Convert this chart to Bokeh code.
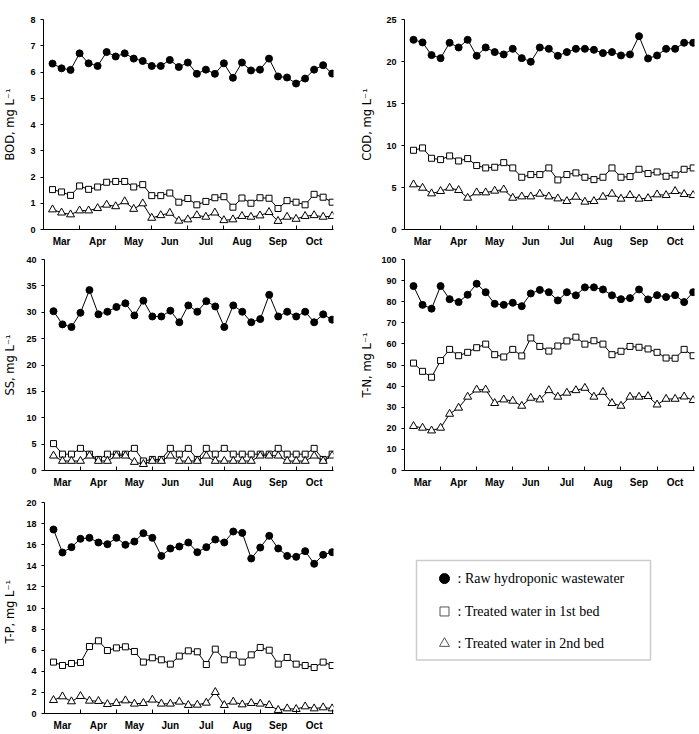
from bokeh.plotting import figure
from bokeh.models import Range1d, FixedTicker, BoxAnnotation
from bokeh.layouts import column, row
from bokeh.core.properties import value
from bokeh.embed import file_html
from bokeh.resources import INLINE

# Sampling sequence: four samples per month, March to October
months = ["Mar", "Apr", "May", "Jun", "Jul", "Aug", "Sep", "Oct"]
samples = list(range(1, 33))

bod_raw = [6.32, 6.14, 6.08, 6.71, 6.33, 6.23, 6.76, 6.59, 6.71, 6.51, 6.42, 6.23, 6.23, 6.46, 6.19, 6.36,
           5.93, 6.09, 5.93, 6.33, 5.78, 6.36, 6.06, 6.09, 6.51, 5.83, 5.79, 5.56, 5.75, 6.09, 6.26, 5.94]
bod_bed1 = [1.52, 1.43, 1.30, 1.66, 1.53, 1.62, 1.80, 1.83, 1.83, 1.62, 1.71, 1.29, 1.29, 1.39, 1.04, 1.18,
            0.94, 1.07, 1.21, 1.25, 0.85, 1.20, 1.00, 1.21, 1.19, 0.80, 1.10, 1.04, 0.94, 1.34, 1.23, 1.04]
bod_bed2 = [0.76, 0.64, 0.57, 0.72, 0.72, 0.81, 0.94, 0.88, 1.07, 0.78, 0.99, 0.44, 0.54, 0.63, 0.33, 0.38,
            0.54, 0.48, 0.64, 0.35, 0.38, 0.51, 0.48, 0.53, 0.66, 0.32, 0.48, 0.40, 0.51, 0.54, 0.48, 0.51]

cod_raw = [22.58, 22.27, 20.76, 20.40, 22.23, 21.67, 22.58, 20.68, 21.67, 21.12, 20.84, 21.51, 20.40, 19.97, 21.67, 21.51,
           20.68, 21.12, 21.51, 21.51, 21.39, 21.00, 21.12, 20.72, 20.84, 23.02, 20.36, 20.72, 21.51, 21.51, 22.23, 22.23]
cod_bed1 = [9.43, 9.71, 8.48, 8.32, 8.76, 8.16, 8.44, 7.61, 7.33, 7.41, 7.96, 7.33, 6.22, 6.54, 6.54, 7.33,
            5.90, 6.54, 6.74, 6.22, 5.94, 6.22, 7.33, 6.22, 6.30, 7.17, 6.66, 6.85, 6.34, 6.50, 7.17, 7.33]
cod_bed2 = [5.35, 4.95, 4.28, 4.56, 4.95, 4.68, 3.76, 4.40, 4.40, 4.60, 4.75, 3.76, 3.92, 3.92, 4.24, 3.92,
            3.68, 3.37, 3.88, 3.29, 3.37, 3.88, 4.24, 3.65, 4.08, 3.65, 3.72, 4.16, 4.08, 4.56, 4.20, 4.08]

ss_raw = [30.2, 27.7, 27.2, 29.9, 34.2, 29.6, 30.1, 31.0, 31.7, 29.4, 32.2, 29.2, 29.2, 30.3, 28.1, 31.3,
          30.1, 32.1, 31.1, 27.2, 31.3, 30.1, 28.1, 28.7, 33.3, 29.2, 30.1, 29.2, 30.1, 28.1, 29.6, 28.6]
ss_bed1 = [5.1, 3.1, 3.1, 4.2, 3.1, 2.1, 3.1, 3.1, 3.1, 4.2, 1.8, 2.1, 2.1, 4.2, 3.1, 4.2,
           2.1, 4.2, 3.1, 4.2, 3.1, 3.1, 3.1, 3.1, 3.1, 4.2, 3.1, 3.1, 3.1, 4.2, 2.1, 3.1]
ss_bed2 = [2.8, 1.8, 1.8, 1.8, 2.8, 1.8, 1.8, 2.8, 2.8, 1.6, 1.2, 1.8, 1.8, 2.8, 1.8, 1.8,
           1.8, 2.8, 1.8, 1.8, 1.8, 1.8, 1.8, 2.8, 2.8, 2.8, 1.8, 1.8, 1.8, 2.8, 1.8, 2.8]

tn_raw = [87.4, 78.5, 76.7, 87.4, 81.2, 79.8, 83.3, 88.5, 84.5, 79.0, 78.5, 79.5, 77.9, 83.9, 85.6, 84.5,
          80.6, 84.5, 83.0, 86.8, 86.8, 85.8, 83.0, 81.2, 81.7, 85.8, 81.1, 83.1, 82.2, 83.1, 79.8, 84.5]
tn_bed1 = [50.9, 47.0, 44.2, 52.1, 57.4, 54.4, 56.0, 58.2, 59.9, 54.9, 53.8, 57.4, 54.3, 62.8, 58.8, 56.6,
           59.0, 61.4, 63.2, 59.9, 61.5, 59.9, 54.9, 56.5, 58.8, 58.4, 57.6, 56.0, 53.3, 53.2, 57.4, 54.4]
tn_bed2 = [21.0, 20.2, 18.9, 20.2, 26.8, 29.7, 34.9, 38.3, 38.3, 31.9, 33.6, 33.0, 30.6, 34.4, 33.6, 38.0,
           34.9, 36.8, 38.0, 39.1, 34.9, 37.2, 31.9, 30.6, 34.9, 34.9, 35.2, 31.2, 33.9, 33.9, 35.0, 33.3]

tp_raw = [17.44, 15.26, 15.77, 16.56, 16.65, 16.21, 16.05, 16.65, 15.99, 16.30, 17.09, 16.65, 14.94, 15.64, 15.83, 16.21,
          15.29, 15.77, 16.49, 16.21, 17.25, 17.12, 14.69, 15.73, 16.84, 15.64, 14.94, 14.85, 15.39, 14.19, 15.04, 15.29]
tp_bed1 = [4.87, 4.55, 4.74, 4.83, 6.35, 6.89, 5.97, 6.22, 6.32, 5.88, 4.87, 5.28, 5.09, 4.68, 5.44, 5.94,
           5.85, 4.64, 6.10, 5.09, 5.56, 4.87, 5.56, 6.26, 6.00, 4.68, 5.31, 4.68, 4.55, 4.36, 4.87, 4.55]
tp_bed2 = [1.26, 1.61, 1.14, 1.64, 1.20, 1.17, 0.88, 0.98, 1.23, 0.92, 0.98, 1.30, 0.92, 0.92, 1.11, 0.79,
           0.82, 1.01, 2.02, 0.79, 1.11, 0.85, 0.98, 0.92, 0.79, 0.32, 0.47, 0.41, 0.66, 0.47, 0.57, 0.47]

legend_labels = [": Raw hydroponic wastewater",
                 ": Treated water in 1st bed",
                 ": Treated water in 2nd bed"]

SANS = "Liberation Sans"
LABEL_FONT = "DejaVu Sans"
SERIF = "Liberation Serif"

month_centers = [2 + 4 * i for i in range(len(months))]
month_edges = [4 * i for i in range(len(months) + 1)]


def panel(ylabel, raw, bed1, bed2, ymax, ystep, width, height, borders, label_standoff):
    left, right, top, bottom = borders
    p = figure(width=width, height=height, output_backend="svg", toolbar_location=None,
               x_range=Range1d(0, 32.15), y_range=Range1d(0, ymax),
               min_border_left=left, min_border_right=right,
               min_border_top=top, min_border_bottom=bottom)
    p.outline_line_color = None
    p.xgrid.visible = False
    p.ygrid.visible = False
    p.background_fill_color = "white"

    # x axis: month names centred in each block of four samples, ticks between months
    xa = p.xaxis[0]
    xa.ticker = FixedTicker(ticks=month_centers, minor_ticks=month_edges)
    xa.major_label_overrides = {c: m for c, m in zip(month_centers, months)}
    xa.major_tick_in = 0
    xa.major_tick_out = 0
    xa.minor_tick_in = 4
    xa.minor_tick_out = 0
    xa.minor_tick_line_color = "black"
    xa.axis_line_color = "black"
    xa.major_label_text_font = SANS
    xa.major_label_text_font_style = "bold"
    xa.major_label_text_font_size = "10px"
    xa.major_label_text_color = "black"
    xa.major_label_standoff = 6

    ya = p.yaxis[0]
    ya.ticker = FixedTicker(ticks=list(range(0, ymax + 1, ystep)), minor_ticks=[])
    ya.major_tick_in = 0
    ya.major_tick_out = 3
    ya.minor_tick_line_color = None
    ya.axis_line_color = "black"
    ya.major_label_text_font = SANS
    ya.major_label_text_font_style = "bold"
    ya.major_label_text_font_size = "9px"
    ya.major_label_text_color = "black"
    ya.major_label_standoff = 5
    ya.axis_label = ylabel
    ya.axis_label_text_font = LABEL_FONT
    ya.axis_label_text_font_style = "normal"
    ya.axis_label_text_font_size = "11.5px"
    ya.axis_label_text_color = "black"
    ya.axis_label_standoff = label_standoff

    # 1st bed, 2nd bed, then raw wastewater
    p.line(samples, bed1, line_color="black", line_width=1)
    p.scatter(samples, bed1, marker="square", size=6, fill_color="white", line_color="black", line_width=1)
    p.line(samples, bed2, line_color="black", line_width=1)
    p.scatter(samples, bed2, marker="triangle", size=8, fill_color="white", line_color="black", line_width=1)
    p.line(samples, raw, line_color="black", line_width=1)
    p.scatter(samples, raw, marker="circle", size=7, fill_color="black", line_color="black")
    return p


L = (43, 17)   # left column horizontal borders
R = (54, 5)    # right column horizontal borders

p_bod = panel("BOD, mg L\u207b\u00b9", bod_raw, bod_bed1, bod_bed2, 8, 1, 350, 250, L + (18, 21), 10)
p_cod = panel("COD, mg L\u207b\u00b9", cod_raw, cod_bed1, cod_bed2, 25, 5, 349, 250, R + (19, 21), 9)
p_ss = panel("SS, mg L\u207b\u00b9", ss_raw, ss_bed1, ss_bed2, 40, 5, 350, 240, L + (9, 19), 6)
p_tn = panel("T-N, mg L\u207b\u00b9", tn_raw, tn_bed1, tn_bed2, 100, 10, 349, 240, R + (9, 20), 4)
p_tp = panel("T-P,  mg  L\u207b\u00b9", tp_raw, tp_bed1, tp_bed2, 20, 2, 350, 244, L + (12, 21), 6)

# Legend panel drawn in page-pixel coordinates
leg = figure(width=349, height=244, output_backend="svg", toolbar_location=None,
             x_range=Range1d(350, 699), y_range=Range1d(734, 490),
             x_axis_location=None, y_axis_location=None, min_border=0)
leg.outline_line_color = None
leg.xgrid.visible = False
leg.ygrid.visible = False
leg.add_layout(BoxAnnotation(left=416, right=650, top=557, bottom=672,
                             fill_color=None, line_color="#555555", line_width=1.5))
key_x = [444, 444, 444]
key_y = [578, 616, 653]
leg.scatter([key_x[0]], [key_y[0]], marker="circle", size=10, fill_color="black", line_color="black")
leg.scatter([key_x[1]], [key_y[1]], marker="square", size=9, fill_color="white", line_color="#555555", line_width=1)
leg.scatter([key_x[2]], [key_y[2]], marker="triangle", size=10, fill_color="white", line_color="#555555", line_width=1)
leg.text(x=[457, 457, 457], y=key_y, text=legend_labels,
         text_font=value(SERIF), text_font_size="14px", text_color="black",
         text_baseline="middle", text_align="left")

layout = column(row(p_bod, p_cod), row(p_ss, p_tn), row(p_tp, leg))

open("out.html", "w").write(file_html(layout, INLINE))
